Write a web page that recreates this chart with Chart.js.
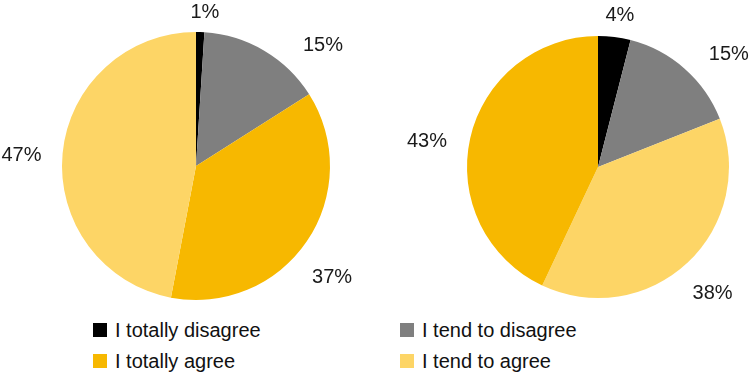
<!DOCTYPE html>
<html>
<head>
<meta charset="utf-8">
<script src="https://cdn.jsdelivr.net/npm/chart.js@4.4.0/dist/chart.umd.min.js"></script>
<style>
    html, body { margin: 0; padding: 0; background: #fff; }
    body { width: 750px; height: 378px; position: relative; overflow: hidden; font-family: "Liberation Sans", Arial, sans-serif; }
    .pie-box { position: absolute; top: 0; width: 375px; height: 318px; }
    #box-left { left: 0; }
    #box-right { left: 375px; }
    .legend-item { position: absolute; font-size: 20px; color: #111; line-height: 20px; white-space: nowrap; }
    .legend-item span.sw { position: absolute; left: 0; top: 3px; width: 14px; height: 14px; }
    .legend-item span.txt { position: absolute; left: 22px; top: 0; }
</style>
</head>
<body>
<div class="pie-box" id="box-left"><canvas id="pieLeft"></canvas></div>
<div class="pie-box" id="box-right"><canvas id="pieRight"></canvas></div>
<div id="legend"></div>

<script>
// Datos de las dos tartas
const leftLabels = ['I totally disagree', 'I tend to disagree', 'I totally agree', 'I tend to agree'];
const leftValues = [1, 15, 37, 47];

const rightLabels = ['I totally disagree', 'I tend to disagree', 'I tend to agree', 'I totally agree'];
const rightValues = [4, 15, 38, 43];

const legendLabels = ['I totally disagree', 'I tend to disagree', 'I totally agree', 'I tend to agree'];

const categoryColors = {
    'I totally disagree': '#000000',
    'I tend to disagree': '#7f7f7f',
    'I totally agree': '#f7b800',
    'I tend to agree': '#fdd566'
};

// Etiquetas de porcentaje fuera de cada sector
const outsideLabels = {
    id: 'outsideLabels',
    afterDatasetsDraw(chart, args, opts) {
        const ctx = chart.ctx;
        const meta = chart.getDatasetMeta(0);
        const values = chart.data.datasets[0].data;
        const nudge = opts.nudge || {};
        ctx.save();
        ctx.font = '20px "Liberation Sans", Arial, sans-serif';
        ctx.fillStyle = '#1a1a1a';
        ctx.textAlign = 'center';
        ctx.textBaseline = 'middle';
        meta.data.forEach((arc, i) => {
            const p = arc.getProps(['x', 'y', 'startAngle', 'endAngle', 'outerRadius'], true);
            const mid = (p.startAngle + p.endAngle) / 2 + (nudge[i] || 0) * Math.PI / 180;
            const text = values[i] + '%';
            const w = ctx.measureText(text).width;
            const h = 17;
            const cx = Math.cos(mid), sy = Math.sin(mid);
            const half = Math.abs(cx) * w / 2 + Math.abs(sy) * h / 2;
            const d = p.outerRadius + 3 + 1.85 * half;
            ctx.fillText(text, p.x + cx * d, p.y + sy * d);
        });
        ctx.restore();
    }
};

function makePie(canvasId, labels, values, padding, nudge) {
    const ctx = document.getElementById(canvasId).getContext('2d');
    return new Chart(ctx, {
        type: 'pie',
        data: {
            labels: labels,
            datasets: [{
                data: values,
                backgroundColor: labels.map(l => categoryColors[l]),
                borderWidth: 0
            }]
        },
        options: {
            responsive: true,
            maintainAspectRatio: false,
            animation: false,
            layout: { padding: padding },
            plugins: {
                legend: { display: false },
                tooltip: { enabled: false },
                outsideLabels: { nudge: nudge }
            }
        },
        plugins: [outsideLabels]
    });
}

makePie('pieLeft', leftLabels, leftValues, { left: 62, right: 45, top: 32, bottom: 18 }, { 0: 1.5, 1: 16, 2: 5, 3: -2 });
makePie('pieRight', rightLabels, rightValues, { left: 92, right: 21, top: 36, bottom: 20 }, { 0: 1, 1: 8, 2: 1, 3: -4 });

// Leyenda en dos columnas
const legendPos = [
    { x: 93, y: 320 }, { x: 400, y: 320 },
    { x: 93, y: 351 }, { x: 400, y: 351 }
];
const legend = document.getElementById('legend');
legendLabels.forEach((label, i) => {
    const item = document.createElement('div');
    item.className = 'legend-item';
    item.style.left = legendPos[i].x + 'px';
    item.style.top = legendPos[i].y + 'px';
    item.innerHTML = '<span class="sw" style="background:' + categoryColors[label] + '"></span><span class="txt">' + label + '</span>';
    legend.appendChild(item);
});
</script>
</body>
</html>
